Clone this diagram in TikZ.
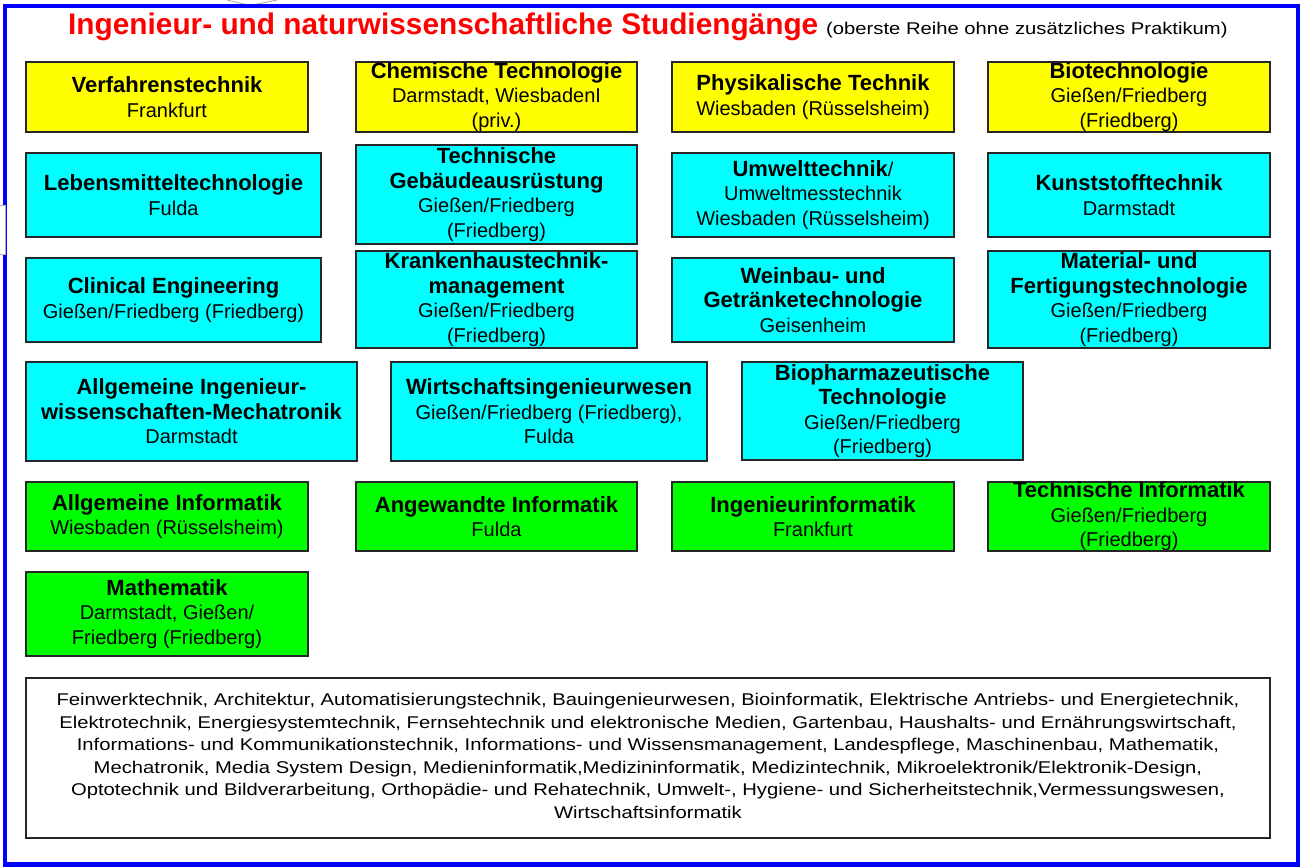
\documentclass[tikz,border=0pt]{standalone}
\usepackage{fontspec}
\setmainfont{Liberation Sans}
\newfontfamily\widefont[FakeStretch=1.19]{Liberation Sans}
\definecolor{boxyellow}{RGB}{255,255,0}
\definecolor{boxcyan}{RGB}{0,255,255}
\definecolor{boxgreen}{RGB}{0,255,0}
\definecolor{framblue}{RGB}{0,0,255}
\definecolor{titlered}{RGB}{255,0,0}
\newcommand\hd[1]{{\fontsize{22}{24.5}\selectfont\bfseries #1}}
\tikzset{
  box/.style={draw=black!85, line width=1.2pt, inner sep=0pt, outer sep=0pt},
  ybox/.style={box, fill=boxyellow},
  cbox/.style={box, fill=boxcyan},
  gbox/.style={box, fill=boxgreen},
  wbox/.style={box, fill=white},
  lbl/.style={align=center, inner sep=0pt, font=\fontsize{20}{24.5}\selectfont},
  frame/.style={draw=framblue, line width=4.5pt},
}
\newcommand\bx[7]{% style, name, x1, y1, x2, y2, text
  \node[#1, minimum width={#5-#3}, minimum height={#6-#4}] (#2) at ({(#3+#5)/2},{(#4+#6)/2}) {};
  \node[lbl] (#2-t) at (#2.center) {#7};
}
\begin{document}
\begin{tikzpicture}[x=1pt,y=-1pt]
\useasboundingbox[fill=white] (0,0) rectangle (1303,867);
% small artifacts at the edges
\coordinate (ch1) at (227,0);
\coordinate (ch2) at (250,5.5);
\coordinate (ch3) at (277,0);
\draw[gray!70, line width=0.8pt] (ch1) -- (ch2) -- (ch3);
% outer frame
\draw[frame] (5,6) rectangle (1298,864.5);
\node[draw=gray!60, fill=white, line width=0.6pt, minimum width=6pt, minimum height=49pt, inner sep=0pt] (lb) at (2,229.5) {};
% title
\node[anchor=base west, inner sep=0pt, text=titlered, font=\fontsize{29.8}{30}\selectfont\bfseries] (title) at (68,35) {Ingenieur- und naturwissenschaftliche Studiengänge};
\node[anchor=base west, inner sep=0pt, font=\widefont\fontsize{17}{18}\selectfont] (sub) at (826,35) {(oberste Reihe ohne zusätzliches Praktikum)};
% row 1
\bx{ybox}{verf}{26}{62}{308}{132}{\hd{Verfahrenstechnik}\\Frankfurt}
\bx{ybox}{chem}{356}{62}{637}{132}{\hd{Chemische Technologie}\\Darmstadt, WiesbadenI\\(priv.)}
\bx{ybox}{phys}{672}{62}{954}{132}{\hd{Physikalische Technik}\\Wiesbaden (Rüsselsheim)}
\bx{ybox}{bio}{988}{62}{1270}{132}{\hd{Biotechnologie}\\Gießen/Friedberg\\(Friedberg)}
% row 2
\bx{cbox}{leben}{26}{153}{321}{237}{\hd{Lebensmitteltechnologie}\\Fulda}
\bx{cbox}{tga}{356}{145}{637}{244}{\hd{Technische}\\\hd{Gebäudeausrüstung}\\Gießen/Friedberg\\(Friedberg)}
\bx{cbox}{umw}{672}{153}{954}{237}{\hd{Umwelttechnik}/\\Umweltmesstechnik\\Wiesbaden (Rüsselsheim)}
\bx{cbox}{kunst}{988}{153}{1270}{237}{\hd{Kunststofftechnik}\\Darmstadt}
% row 3
\bx{cbox}{clin}{26}{258}{321}{342}{\hd{Clinical Engineering}\\Gießen/Friedberg (Friedberg)}
\bx{cbox}{kh}{356}{251}{637}{348}{\hd{Krankenhaustechnik-}\\\hd{management}\\Gießen/Friedberg\\(Friedberg)}
\bx{cbox}{wein}{672}{258}{954}{342}{\hd{Weinbau- und}\\\hd{Getränketechnologie}\\Geisenheim}
\bx{cbox}{mat}{988}{251}{1270}{348}{\hd{Material- und}\\\hd{Fertigungstechnologie}\\Gießen/Friedberg\\(Friedberg)}
% row 4
\bx{cbox}{aiw}{26}{362}{357}{461}{\hd{Allgemeine Ingenieur-}\\\hd{wissenschaften-Mechatronik}\\Darmstadt}
\bx{cbox}{wing}{391}{362}{707}{461}{\hd{Wirtschaftsingenieurwesen}\\Gießen/Friedberg (Friedberg),\\Fulda}
\bx{cbox}{bpt}{742}{362}{1023}{460}{\hd{Biopharmazeutische}\\\hd{Technologie}\\Gießen/Friedberg\\(Friedberg)}
% row 5
\bx{gbox}{ainf}{26}{482}{308}{551}{\hd{Allgemeine Informatik}\\Wiesbaden (Rüsselsheim)}
\bx{gbox}{angi}{356}{482}{637}{551}{\hd{Angewandte Informatik}\\Fulda}
\bx{gbox}{inginf}{672}{482}{954}{551}{\hd{Ingenieurinformatik}\\Frankfurt}
\bx{gbox}{tinf}{988}{482}{1270}{551}{\hd{Technische Informatik}\\Gießen/Friedberg\\(Friedberg)}
% row 6
\bx{gbox}{math}{26}{572}{308}{656}{\hd{Mathematik}\\Darmstadt, Gießen/\\Friedberg (Friedberg)}
% bottom list
\node[wbox, minimum width=1244pt, minimum height=160pt] (list) at (648,758) {};
\node[align=center, inner sep=0pt, font=\widefont\fontsize{17}{22.5}\selectfont] (list-t) at (648,756) {Feinwerktechnik, Architektur, Automatisierungstechnik, Bauingenieurwesen, Bioinformatik, Elektrische Antriebs- und Energietechnik,\\
Elektrotechnik, Energiesystemtechnik, Fernsehtechnik und elektronische Medien, Gartenbau, Haushalts- und Ernährungswirtschaft,\\
Informations- und Kommunikationstechnik, Informations- und Wissensmanagement, Landespflege, Maschinenbau, Mathematik,\\
Mechatronik, Media System Design, Medieninformatik,Medizininformatik, Medizintechnik, Mikroelektronik/Elektronik-Design,\\
Optotechnik und Bildverarbeitung, Orthopädie- und Rehatechnik, Umwelt-, Hygiene- und Sicherheitstechnik,Vermessungswesen,\\
Wirtschaftsinformatik};
\end{tikzpicture}
\end{document}
